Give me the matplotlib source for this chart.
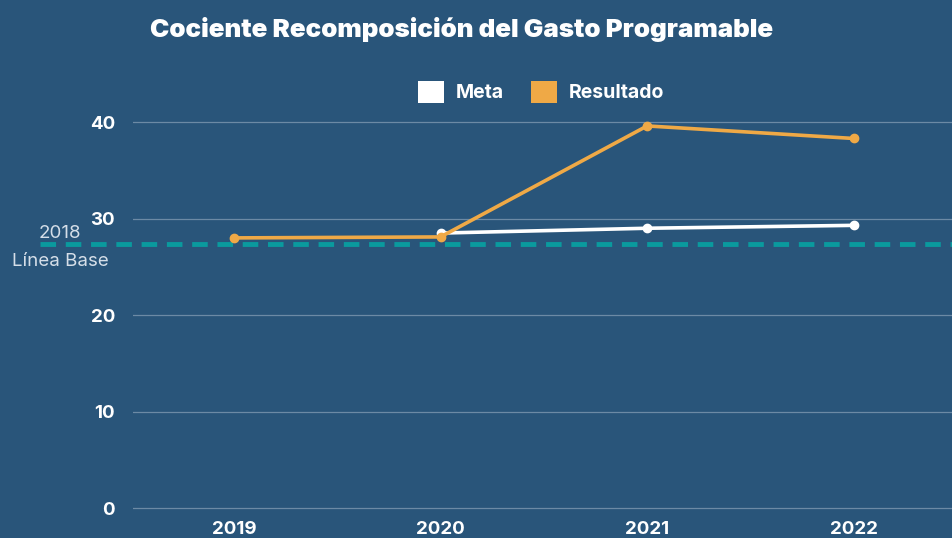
import matplotlib
matplotlib.use("Agg")
import matplotlib.pyplot as plt
from matplotlib.patches import Patch

years = [2019, 2020, 2021, 2022]
meta_years = [2020, 2021, 2022]
meta = [28.5, 29.0, 29.3]
resultado = [28.0, 28.1, 39.6, 38.3]
linea_base = 27.4
yticks = [0, 10, 20, 30, 40]

BG = "#29557A"
ORANGE = "#EFA946"
TEAL = "#0A9A9E"
FONT = ["Inter", "DejaVu Sans"]

fig = plt.figure(figsize=(9.53, 5.38), dpi=100, facecolor=BG)
bottom_px, top_px = 513, 110
ax = fig.add_axes([133 / 953, (538 - bottom_px) / 538, 1 - 133 / 953, (bottom_px - top_px) / 538])
ax.set_facecolor(BG)
x0 = 2018.512
ax.set_xlim(x0, 2022.48)
ax.set_ylim(-0.5, 41.25)

for t in yticks:
    ax.axhline(t, color="#7E98B0", lw=0.9, alpha=0.8, zorder=1)

ax.plot(meta_years, meta, color="white", lw=2.6, marker="o", ms=6, zorder=3)
ax.plot(years, resultado, color=ORANGE, lw=2.6, marker="o", ms=6, zorder=4)

# baseline dashed line extending beyond axes to the left
ax.plot([x0 - 93 / 207, 2022.48], [linea_base, linea_base], color=TEAL, lw=3.5,
        dashes=(3.2, 2.0), clip_on=False, zorder=2)
ax.text(x0 - 73 / 207, linea_base + 1.1, "2018", color="#D5DEE8", fontsize=13.5,
        ha="center", va="center", family=FONT)
ax.text(x0 - 73 / 207, linea_base - 1.8, "Línea Base", color="#D5DEE8", fontsize=13.5,
        ha="center", va="center", family=FONT)

ax.set_yticks(yticks)
ax.set_yticklabels([str(t) for t in yticks], family=FONT, fontweight="bold", fontsize=13.5, color="white")
ax.set_xticks(years)
ax.set_xticklabels([str(y) for y in years], family=FONT, fontweight="bold", fontsize=13.5, color="white")
ax.tick_params(axis="both", length=0)
ax.tick_params(axis="y", pad=13)
ax.tick_params(axis="x", pad=6)
for s in ax.spines.values():
    s.set_visible(False)

fig.text(462 / 953, 1 - 29 / 538, "Cociente Recomposición del Gasto Programable", color="white",
         fontsize=18.7, fontweight="black", ha="center", va="center", family=FONT)

handles = [Patch(facecolor="white", edgecolor="none", label="Meta"),
           Patch(facecolor=ORANGE, edgecolor="none", label="Resultado")]
leg = fig.legend(handles=handles, loc="center", bbox_to_anchor=(541 / 953, 1 - 92 / 538), ncol=2,
                 frameon=False, handlelength=1.35, handleheight=1.35, handletextpad=0.6, columnspacing=1.35,
                 prop={"family": FONT, "weight": "bold", "size": 14})
for t in leg.get_texts():
    t.set_color("white")

fig.savefig("out.png", dpi=100, facecolor=BG)
